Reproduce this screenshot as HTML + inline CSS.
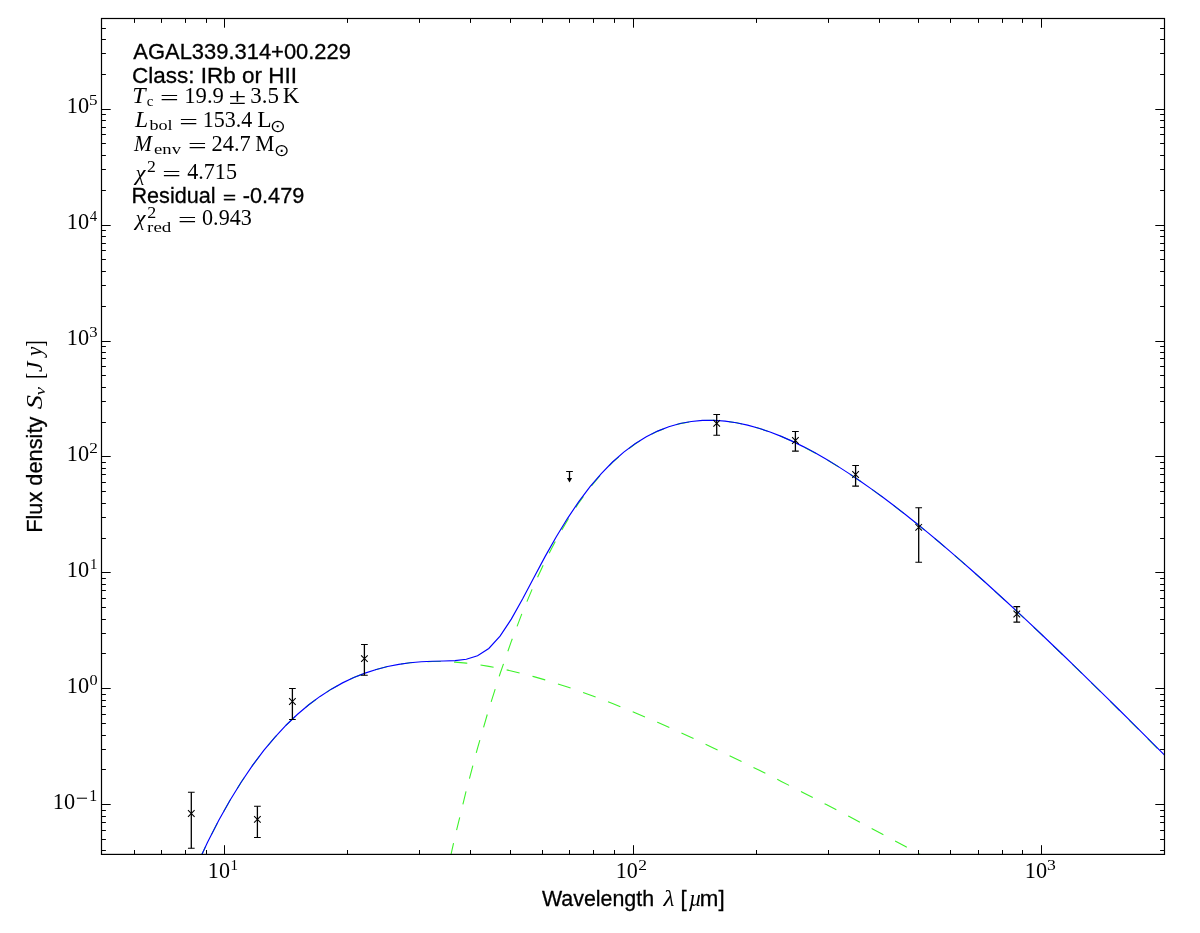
<!DOCTYPE html>
<html><head><meta charset="utf-8"><title>AGAL339.314+00.229 SED</title>
<style>html,body{margin:0;padding:0;background:#fff}svg{display:block;will-change:transform}text{fill:#000;white-space:pre}</style></head>
<body>
<svg width="1200" height="933" viewBox="0 0 1200 933">
<rect width="1200" height="933" fill="#fff"/>
<defs><clipPath id="ax"><rect x="101.5" y="18.5" width="1063.00" height="835.90"/></clipPath></defs>
<g clip-path="url(#ax)">
<path d="M83.80 1255.80L95.05 1201.89L106.30 1151.88L117.55 1105.54L128.80 1062.63L140.05 1022.95L151.30 986.30L162.55 952.48L173.80 921.34L185.05 892.70L196.30 866.40L207.55 842.31L218.80 820.29L230.05 800.21L241.30 781.95L252.55 765.40L263.80 750.46L275.05 737.01L286.30 724.97L297.55 714.24L308.80 704.75L320.05 696.41L331.30 689.14L342.55 682.88L353.80 677.56L365.05 673.10L376.30 669.45L387.55 666.56L398.80 664.36L410.05 662.81L421.30 661.85L432.55 661.45L443.80 661.56L455.05 662.14L466.30 663.15L477.55 664.57L488.80 666.35L500.05 668.48L511.30 670.92L522.55 673.65L533.80 676.65L545.05 679.90L556.30 683.37L567.55 687.05L578.80 690.93L590.05 694.98L601.30 699.20L612.55 703.57L623.80 708.08L635.05 712.72L646.30 717.48L657.55 722.36L668.80 727.34L680.05 732.41L691.30 737.57L702.55 742.81L713.80 748.14L725.05 753.53L736.30 758.99L747.55 764.51L758.80 770.08L770.05 775.71L781.30 781.39L792.55 787.12L803.80 792.89L815.05 798.70L826.30 804.54L837.55 810.43L848.80 816.34L860.05 822.28L871.30 828.26L882.55 834.26L893.80 840.28L905.05 846.33L916.30 852.40L927.55 858.48L938.80 864.59L950.05 870.72L961.30 876.86L972.55 883.02L983.80 889.19L995.05 895.38L1006.30 901.57L1017.55 907.78L1028.80 914.00L1040.05 920.24L1051.30 926.48L1062.55 932.73L1073.80 938.99L1085.05 945.26L1096.30 951.53L1107.55 957.81L1118.80 964.10L1130.05 970.39L1141.30 976.70L1152.55 983.00L1163.80 989.31L1175.05 995.63" fill="none" stroke="#3df22a" stroke-width="1.1" stroke-dasharray="13.3 13.3" stroke-dashoffset="11.38"/>
<path d="M353.80 1468.27L365.05 1374.80L376.30 1288.03L387.55 1207.55L398.80 1132.96L410.05 1063.90L421.30 1000.04L432.55 941.05L443.80 886.62L455.05 836.49L466.30 790.37L477.55 748.04L488.80 709.24L500.05 673.77L511.30 641.42L522.55 611.99L533.80 585.31L545.05 561.21L556.30 539.52L567.55 520.11L578.80 502.82L590.05 487.52L601.30 474.11L612.55 462.44L623.80 452.43L635.05 443.96L646.30 436.94L657.55 431.27L668.80 426.87L680.05 423.65L691.30 421.54L702.55 420.47L713.80 420.36L725.05 421.14L736.30 422.76L747.55 425.16L758.80 428.27L770.05 432.05L781.30 436.45L792.55 441.42L803.80 446.92L815.05 452.90L826.30 459.33L837.55 466.18L848.80 473.41L860.05 481.00L871.30 488.90L882.55 497.11L893.80 505.60L905.05 514.33L916.30 523.31L927.55 532.50L938.80 541.89L950.05 551.46L961.30 561.20L972.55 571.10L983.80 581.15L995.05 591.33L1006.30 601.64L1017.55 612.06L1028.80 622.58L1040.05 633.21L1051.30 643.93L1062.55 654.73L1073.80 665.61L1085.05 676.56L1096.30 687.59L1107.55 698.67L1118.80 709.82L1130.05 721.02L1141.30 732.27L1152.55 743.57L1163.80 754.91L1175.05 766.29" fill="none" stroke="#3df22a" stroke-width="1.1" stroke-dasharray="13.3 13.3" stroke-dashoffset="18.37"/>
<path d="M83.80 1255.80L95.05 1201.89L106.30 1151.88L117.55 1105.54L128.80 1062.63L140.05 1022.95L151.30 986.30L162.55 952.48L173.80 921.34L185.05 892.70L196.30 866.40L207.55 842.31L218.80 820.29L230.05 800.21L241.30 781.95L252.55 765.40L263.80 750.46L275.05 737.01L286.30 724.97L297.55 714.24L308.80 704.75L320.05 696.41L331.30 689.14L342.55 682.88L353.80 677.56L365.05 673.10L376.30 669.45L387.55 666.56L398.80 664.35L410.05 662.79L421.30 661.79L432.55 661.25L443.80 660.98L455.05 660.58L466.30 659.28L477.55 655.78L488.80 648.46L500.05 636.15L511.30 619.13L522.55 599.02L533.80 577.71L545.05 556.65L556.30 536.71L567.55 518.31L578.80 501.63L590.05 486.71L601.30 473.53L612.55 462.03L623.80 452.12L635.05 443.72L646.30 436.74L657.55 431.11L668.80 426.74L680.05 423.54L691.30 421.45L702.55 420.38L713.80 420.28L725.05 421.07L736.30 422.70L747.55 425.10L758.80 428.22L770.05 432.00L781.30 436.40L792.55 441.37L803.80 446.86L815.05 452.85L826.30 459.28L837.55 466.13L848.80 473.36L860.05 480.94L871.30 488.85L882.55 497.05L893.80 505.53L905.05 514.27L916.30 523.23L927.55 532.42L938.80 541.80L950.05 551.37L961.30 561.11L972.55 571.00L983.80 581.04L995.05 591.21L1006.30 601.51L1017.55 611.92L1028.80 622.43L1040.05 633.04L1051.30 643.74L1062.55 654.53L1073.80 665.39L1085.05 676.32L1096.30 687.32L1107.55 698.38L1118.80 709.50L1130.05 720.66L1141.30 731.88L1152.55 743.13L1163.80 754.43L1175.05 765.76" fill="none" stroke="#0000ff" stroke-width="1.15"/>
<path d="M191.30 792.30V848.30M257.40 806.20V837.40M292.40 688.50V719.40M364.40 644.40V675.30M716.70 414.40V435.30M795.40 431.40V451.10M855.60 465.50V486.10M918.70 507.70V562.30M1016.80 606.60V622.10M569.5 471.4V479" stroke="#000" stroke-width="1.3" fill="none"/><path d="M187.95 792.30h6.7M187.95 848.30h6.7M254.05 806.20h6.7M254.05 837.40h6.7M289.05 688.50h6.7M289.05 719.40h6.7M361.05 644.40h6.7M361.05 675.30h6.7M713.35 414.40h6.7M713.35 435.30h6.7M792.05 431.40h6.7M792.05 451.10h6.7M852.25 465.50h6.7M852.25 486.10h6.7M915.35 507.70h6.7M915.35 562.30h6.7M1013.45 606.60h6.7M1013.45 622.10h6.7M566.15 471.4h6.7" stroke="#000" stroke-width="1.05" fill="none"/><path d="M188.00 810.20l6.6 6.6M188.00 816.80l6.6 -6.6M254.10 816.10l6.6 6.6M254.10 822.70l6.6 -6.6M289.10 698.20l6.6 6.6M289.10 704.80l6.6 -6.6M361.10 655.30l6.6 6.6M361.10 661.90l6.6 -6.6M713.40 420.10l6.6 6.6M713.40 426.70l6.6 -6.6M792.10 437.20l6.6 6.6M792.10 443.80l6.6 -6.6M852.30 471.20l6.6 6.6M852.30 477.80l6.6 -6.6M915.40 524.00l6.6 6.6M915.40 530.60l6.6 -6.6M1013.50 610.70l6.6 6.6M1013.50 617.30l6.6 -6.6" stroke="#000" stroke-width="1.05" fill="none"/><path d="M566.9 478.1h5.2L569.5 482.4z" fill="#000"/>
</g>
<path d="M134.50 854.40v-4.4M134.50 18.50v4.4M161.50 854.40v-4.4M161.50 18.50v4.4M185.50 854.40v-4.4M185.50 18.50v4.4M206.50 854.40v-4.4M206.50 18.50v4.4M224.50 854.40v-9.2M224.50 18.50v9.2M347.50 854.40v-4.4M347.50 18.50v4.4M419.50 854.40v-4.4M419.50 18.50v4.4M470.50 854.40v-4.4M470.50 18.50v4.4M510.50 854.40v-4.4M510.50 18.50v4.4M542.50 854.40v-4.4M542.50 18.50v4.4M569.50 854.40v-4.4M569.50 18.50v4.4M593.50 854.40v-4.4M593.50 18.50v4.4M614.50 854.40v-4.4M614.50 18.50v4.4M633.50 854.40v-9.2M633.50 18.50v9.2M756.50 854.40v-4.4M756.50 18.50v4.4M828.50 854.40v-4.4M828.50 18.50v4.4M879.50 854.40v-4.4M879.50 18.50v4.4M918.50 854.40v-4.4M918.50 18.50v4.4M950.50 854.40v-4.4M950.50 18.50v4.4M978.50 854.40v-4.4M978.50 18.50v4.4M1002.50 854.40v-4.4M1002.50 18.50v4.4M1022.50 854.40v-4.4M1022.50 18.50v4.4M1041.50 854.40v-9.2M1041.50 18.50v9.2M101.50 850.50h4.4M1164.50 850.50h-4.4M101.50 839.50h4.4M1164.50 839.50h-4.4M101.50 830.50h4.4M1164.50 830.50h-4.4M101.50 822.50h4.4M1164.50 822.50h-4.4M101.50 816.50h4.4M1164.50 816.50h-4.4M101.50 810.50h4.4M1164.50 810.50h-4.4M101.50 804.50h9.2M1164.50 804.50h-9.2M101.50 769.50h4.4M1164.50 769.50h-4.4M101.50 749.50h4.4M1164.50 749.50h-4.4M101.50 735.50h4.4M1164.50 735.50h-4.4M101.50 723.50h4.4M1164.50 723.50h-4.4M101.50 714.50h4.4M1164.50 714.50h-4.4M101.50 706.50h4.4M1164.50 706.50h-4.4M101.50 700.50h4.4M1164.50 700.50h-4.4M101.50 694.50h4.4M1164.50 694.50h-4.4M101.50 688.50h9.2M1164.50 688.50h-9.2M101.50 653.50h4.4M1164.50 653.50h-4.4M101.50 633.50h4.4M1164.50 633.50h-4.4M101.50 619.50h4.4M1164.50 619.50h-4.4M101.50 607.50h4.4M1164.50 607.50h-4.4M101.50 598.50h4.4M1164.50 598.50h-4.4M101.50 590.50h4.4M1164.50 590.50h-4.4M101.50 584.50h4.4M1164.50 584.50h-4.4M101.50 578.50h4.4M1164.50 578.50h-4.4M101.50 572.50h9.2M1164.50 572.50h-9.2M101.50 538.50h4.4M1164.50 538.50h-4.4M101.50 517.50h4.4M1164.50 517.50h-4.4M101.50 503.50h4.4M1164.50 503.50h-4.4M101.50 491.50h4.4M1164.50 491.50h-4.4M101.50 482.50h4.4M1164.50 482.50h-4.4M101.50 474.50h4.4M1164.50 474.50h-4.4M101.50 468.50h4.4M1164.50 468.50h-4.4M101.50 462.50h4.4M1164.50 462.50h-4.4M101.50 456.50h9.2M1164.50 456.50h-9.2M101.50 422.50h4.4M1164.50 422.50h-4.4M101.50 401.50h4.4M1164.50 401.50h-4.4M101.50 387.50h4.4M1164.50 387.50h-4.4M101.50 375.50h4.4M1164.50 375.50h-4.4M101.50 366.50h4.4M1164.50 366.50h-4.4M101.50 358.50h4.4M1164.50 358.50h-4.4M101.50 352.50h4.4M1164.50 352.50h-4.4M101.50 346.50h4.4M1164.50 346.50h-4.4M101.50 341.50h9.2M1164.50 341.50h-9.2M101.50 306.50h4.4M1164.50 306.50h-4.4M101.50 285.50h4.4M1164.50 285.50h-4.4M101.50 271.50h4.4M1164.50 271.50h-4.4M101.50 259.50h4.4M1164.50 259.50h-4.4M101.50 250.50h4.4M1164.50 250.50h-4.4M101.50 243.50h4.4M1164.50 243.50h-4.4M101.50 236.50h4.4M1164.50 236.50h-4.4M101.50 230.50h4.4M1164.50 230.50h-4.4M101.50 225.50h9.2M1164.50 225.50h-9.2M101.50 190.50h4.4M1164.50 190.50h-4.4M101.50 169.50h4.4M1164.50 169.50h-4.4M101.50 155.50h4.4M1164.50 155.50h-4.4M101.50 143.50h4.4M1164.50 143.50h-4.4M101.50 134.50h4.4M1164.50 134.50h-4.4M101.50 127.50h4.4M1164.50 127.50h-4.4M101.50 120.50h4.4M1164.50 120.50h-4.4M101.50 114.50h4.4M1164.50 114.50h-4.4M101.50 109.50h9.2M1164.50 109.50h-9.2M101.50 74.50h4.4M1164.50 74.50h-4.4M101.50 53.50h4.4M1164.50 53.50h-4.4M101.50 39.50h4.4M1164.50 39.50h-4.4M101.50 28.50h4.4M1164.50 28.50h-4.4" stroke="#000" stroke-width="1" fill="none"/>
<rect x="101.5" y="18.5" width="1063.00" height="835.90" fill="none" stroke="#000" stroke-width="1.2"/>
<g>
<text transform="translate(207.86,878.00) scale(0.9947,1.0000)" style="font-family:'Liberation Serif',serif;font-size:22.2px">10</text>
<text transform="translate(230.58,869.80) scale(0.9713,1.0000)" style="font-family:'Liberation Serif',serif;font-size:15.5px">1</text>
<text transform="translate(615.76,878.00) scale(0.9947,1.0000)" style="font-family:'Liberation Serif',serif;font-size:22.2px">10</text>
<text transform="translate(638.23,869.80) scale(1.1266,1.0000)" style="font-family:'Liberation Serif',serif;font-size:15.5px">2</text>
<text transform="translate(1024.84,878.00) scale(1.0050,1.0000)" style="font-family:'Liberation Serif',serif;font-size:22.2px">10</text>
<text transform="translate(1047.05,869.80) scale(1.1401,1.0000)" style="font-family:'Liberation Serif',serif;font-size:15.5px">3</text>
<text transform="translate(66.84,693.07) scale(1.0050,1.0000)" style="font-family:'Liberation Serif',serif;font-size:22.2px">10</text>
<text transform="translate(89.48,684.87) scale(1.0503,1.0000)" style="font-family:'Liberation Serif',serif;font-size:15.5px">0</text>
<text transform="translate(66.84,577.11) scale(1.0050,1.0000)" style="font-family:'Liberation Serif',serif;font-size:22.2px">10</text>
<text transform="translate(89.90,568.91) scale(0.9529,1.0000)" style="font-family:'Liberation Serif',serif;font-size:15.5px">1</text>
<text transform="translate(66.84,461.16) scale(1.0050,1.0000)" style="font-family:'Liberation Serif',serif;font-size:22.2px">10</text>
<text transform="translate(89.34,452.96) scale(1.1105,1.0000)" style="font-family:'Liberation Serif',serif;font-size:15.5px">2</text>
<text transform="translate(66.84,345.20) scale(1.0050,1.0000)" style="font-family:'Liberation Serif',serif;font-size:22.2px">10</text>
<text transform="translate(89.30,337.00) scale(1.0776,1.0000)" style="font-family:'Liberation Serif',serif;font-size:15.5px">3</text>
<text transform="translate(66.84,229.25) scale(1.0050,1.0000)" style="font-family:'Liberation Serif',serif;font-size:22.2px">10</text>
<text transform="translate(89.81,221.05) scale(0.9577,1.0000)" style="font-family:'Liberation Serif',serif;font-size:15.5px">4</text>
<text transform="translate(66.84,113.29) scale(1.0050,1.0000)" style="font-family:'Liberation Serif',serif;font-size:22.2px">10</text>
<text transform="translate(89.10,105.09) scale(1.1051,1.0000)" style="font-family:'Liberation Serif',serif;font-size:15.5px">5</text>
<text transform="translate(52.84,809.00) scale(1.0050,1.0000)" style="font-family:'Liberation Serif',serif;font-size:22.2px">10</text>
<text transform="translate(75.71,804.52) scale(1.4142,1.3602)" style="font-family:'Liberation Serif',serif;font-size:15.5px">−</text>
<text transform="translate(89.30,801.00) scale(1.0262,1.0750)" style="font-family:'Liberation Serif',serif;font-size:15.5px">1</text>
<text transform="translate(541.91,906.00) scale(0.9646,1.0200)" style="font-family:'Liberation Sans',sans-serif;font-size:22.2px;stroke:#000;stroke-width:0.3px">Wavelength</text>
<text transform="translate(663.62,906.00) scale(1.1453,1.0000)" style="font-family:'Liberation Serif',serif;font-style:italic;font-size:22.2px">λ</text>
<text transform="translate(680.42,906.00) scale(1.0000,1.0200)" style="font-family:'Liberation Sans',sans-serif;font-size:22.2px;stroke:#000;stroke-width:0.3px">[</text>
<text transform="translate(688.70,906.00) scale(1.0168,1.0000)" style="font-family:'Liberation Serif',serif;font-style:italic;font-size:22.2px">µ</text>
<text transform="translate(699.82,906.00) scale(1.0045,1.0200)" style="font-family:'Liberation Sans',sans-serif;font-size:22.2px;stroke:#000;stroke-width:0.3px">m]</text>
<text transform="translate(42.30,531.00) rotate(-90) translate(-1.79,0.00) scale(0.9809,1.0200)" style="font-family:'Liberation Sans',sans-serif;font-size:22.2px;stroke:#000;stroke-width:0.3px">Flux density</text>
<text transform="translate(42.30,531.00) rotate(-90) translate(121.86,0.00) scale(1.2879,1.0000)" style="font-family:'Liberation Serif',serif;font-style:italic;font-size:22.2px">S</text>
<text transform="translate(42.30,531.00) rotate(-90) translate(135.75,2.60) scale(1.1848,1.0000)" style="font-family:'Liberation Serif',serif;font-style:italic;font-size:15.5px">ν</text>
<text transform="translate(42.30,531.00) rotate(-90) translate(152.20,0.60) scale(0.7890,1.1200)" style="font-family:'Liberation Serif',serif;font-size:22.2px">[</text>
<text transform="translate(42.30,531.00) rotate(-90) translate(158.94,0.00) scale(1.0689,1.0000)" style="font-family:'Liberation Serif',serif;font-style:italic;font-size:22.2px">J</text>
<text transform="translate(42.30,531.00) rotate(-90) translate(175.06,0.00) scale(0.9473,1.0000)" style="font-family:'Liberation Serif',serif;font-style:italic;font-size:22.2px">y</text>
<text transform="translate(42.30,531.00) rotate(-90) translate(184.22,0.60) scale(0.8497,1.1200)" style="font-family:'Liberation Serif',serif;font-size:22.2px">]</text>
<text transform="translate(133.36,58.85) scale(0.9879,1.0200)" style="font-family:'Liberation Sans',sans-serif;font-size:22.2px;stroke:#000;stroke-width:0.3px">AGAL339.314+00.229</text>
<text transform="translate(132.06,82.60) scale(1.0134,1.0200)" style="font-family:'Liberation Sans',sans-serif;font-size:22.2px;stroke:#000;stroke-width:0.3px">Class: IRb or HII</text>
<text transform="translate(132.19,103.30) scale(1.0774,1.0000)" style="font-family:'Liberation Serif',serif;font-style:italic;font-size:22.2px">T</text>
<text transform="translate(146.83,106.30) scale(0.9634,1.0000)" style="font-family:'Liberation Serif',serif;font-size:15.5px">c</text>
<text transform="translate(160.10,105.31) scale(1.4956,0.9369)" style="font-family:'Liberation Serif',serif;font-size:22.2px">=</text>
<text transform="translate(184.26,103.30) scale(1.0212,1.0000)" style="font-family:'Liberation Serif',serif;font-size:22.2px">19.9</text>
<text transform="translate(228.69,103.90) scale(1.4230,1.0126)" style="font-family:'Liberation Serif',serif;font-size:22.2px">±</text>
<text transform="translate(250.25,103.30) scale(1.0360,1.0000)" style="font-family:'Liberation Serif',serif;font-size:22.2px">3.5</text>
<text transform="translate(282.74,103.30) scale(1.0353,1.0000)" style="font-family:'Liberation Serif',serif;font-size:22.2px">K</text>
<text transform="translate(134.88,126.90) scale(1.0644,1.0000)" style="font-family:'Liberation Serif',serif;font-style:italic;font-size:22.2px">L</text>
<text transform="translate(149.50,129.80) scale(1.1669,1.0000)" style="font-family:'Liberation Serif',serif;font-size:15.5px">bol</text>
<text transform="translate(179.35,128.91) scale(1.4907,0.9369)" style="font-family:'Liberation Serif',serif;font-size:22.2px">=</text>
<text transform="translate(202.66,126.90) scale(0.9926,1.0000)" style="font-family:'Liberation Serif',serif;font-size:22.2px">153.4</text>
<text transform="translate(257.32,126.90) scale(1.0571,1.0000)" style="font-family:'Liberation Serif',serif;font-size:22.2px">L</text>
<text transform="translate(269.99,131.50) scale(1.2110,1.1346)" style="font-family:'DejaVu Sans',sans-serif;font-size:15.5px">⊙</text>
<text transform="translate(134.00,150.90) scale(0.9736,1.0000)" style="font-family:'Liberation Serif',serif;font-style:italic;font-size:22.2px">M</text>
<text transform="translate(154.02,153.80) scale(1.2056,1.0000)" style="font-family:'Liberation Serif',serif;font-size:15.5px">env</text>
<text transform="translate(188.10,152.91) scale(1.4907,0.9369)" style="font-family:'Liberation Serif',serif;font-size:22.2px">=</text>
<text transform="translate(211.51,150.90) scale(1.0098,1.0000)" style="font-family:'Liberation Serif',serif;font-size:22.2px">24.7</text>
<text transform="translate(255.28,150.90) scale(0.9675,1.0000)" style="font-family:'Liberation Serif',serif;font-size:22.2px">M</text>
<text transform="translate(274.08,155.51) scale(1.1815,1.1052)" style="font-family:'DejaVu Sans',sans-serif;font-size:15.5px">⊙</text>
<text transform="translate(135.61,179.56) scale(1.0167,0.9386)" style="font-family:'Liberation Serif',serif;font-style:italic;font-size:22.2px">χ</text>
<text transform="translate(147.12,171.75) scale(1.1427,1.0231)" style="font-family:'Liberation Serif',serif;font-size:15.5px">2</text>
<text transform="translate(162.20,181.41) scale(1.4907,0.9369)" style="font-family:'Liberation Serif',serif;font-size:22.2px">=</text>
<text transform="translate(187.22,179.40) scale(0.9959,1.0000)" style="font-family:'Liberation Serif',serif;font-size:22.2px">4.715</text>
<text transform="translate(131.42,202.50) scale(0.9750,1.0200)" style="font-family:'Liberation Sans',sans-serif;font-size:22.2px;stroke:#000;stroke-width:0.3px">Residual</text>
<text transform="translate(222.91,203.00) scale(1.0013,0.6709)" style="font-family:'Liberation Sans',sans-serif;font-size:22.2px;stroke:#000;stroke-width:0.6px">=</text>
<text transform="translate(242.79,202.50) scale(0.9777,1.0200)" style="font-family:'Liberation Sans',sans-serif;font-size:22.2px;stroke:#000;stroke-width:0.3px">-0.479</text>
<text transform="translate(135.61,225.47) scale(1.0167,0.9587)" style="font-family:'Liberation Serif',serif;font-style:italic;font-size:22.2px">χ</text>
<text transform="translate(147.21,217.90) scale(1.1587,1.0426)" style="font-family:'Liberation Serif',serif;font-size:15.5px">2</text>
<text transform="translate(147.12,231.70) scale(1.2233,1.0000)" style="font-family:'Liberation Serif',serif;font-size:15.5px">red</text>
<text transform="translate(177.95,227.31) scale(1.4907,0.9369)" style="font-family:'Liberation Serif',serif;font-size:22.2px">=</text>
<text transform="translate(202.06,225.30) scale(0.9972,1.0000)" style="font-family:'Liberation Serif',serif;font-size:22.2px">0.943</text>
</g>
</svg>
</body></html>
